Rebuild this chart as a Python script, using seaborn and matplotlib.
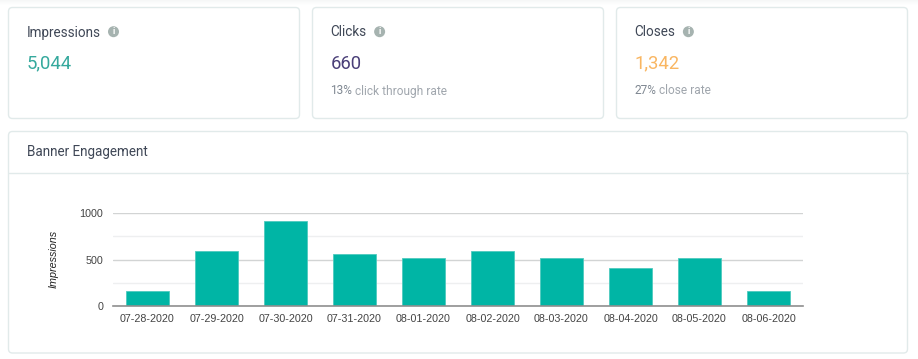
import matplotlib
matplotlib.use("Agg")
import matplotlib.pyplot as plt
from matplotlib.patches import FancyBboxPatch, Circle, Rectangle
import pandas as pd
import seaborn as sns

dates = ["07-28-2020", "07-29-2020", "07-30-2020", "07-31-2020", "08-01-2020",
         "08-02-2020", "08-03-2020", "08-04-2020", "08-05-2020", "08-06-2020"]
impressions = [165, 587, 915, 558, 515, 595, 515, 411, 515, 159]
y_ticks = [0, 500, 1000]
y_minor = [250, 750]

card_titles = ["Impressions", "Clicks", "Closes"]
card_values = ["5,044", "660", "1,342"]
card_colors = ["#35a99d", "#4a3f78", "#f9b662"]
card_bold = ["", "13%", "27%"]
card_rest = ["", " click through rate", " close rate"]
panel_title = "Banner Engagement"

W, H = 918, 359
sns.set_theme(style="white")
plt.rcParams["font.family"] = ["Roboto", "DejaVu Sans"]


def px(v):
    return v * 72 / 100


fig = plt.figure(figsize=(W / 100, H / 100), dpi=100, facecolor="white")

# page layer in pixel coordinates, y going down like the screenshot
bg = fig.add_axes([0, 0, 1, 1])
bg.set_xlim(0, W)
bg.set_ylim(H, 0)
bg.axis("off")

# faint shadow along the top of the page
for i, c in enumerate(["#f6f7f7", "#f8f9f9", "#fafbfb", "#fcfcfc", "#fdfefe"]):
    bg.add_patch(Rectangle((0, i), W, 1, fc=c, ec="none"))


def card(x0, y0, x1, y1):
    bg.add_patch(FancyBboxPatch((x0 + 4, y0 + 4), x1 - x0 - 8, y1 - y0 - 8,
                                boxstyle="round,pad=4,rounding_size=4",
                                fc="white", ec="#e1eaea", lw=1))


card_x = [(8.5, 299.5), (312.5, 603.5), (616.5, 907.5)]
for i in range(3):
    x0, x1 = card_x[i]
    card(x0, 7.5, x1, 118.5)
    t = bg.text(x0 + 18, 32.5, card_titles[i], fontsize=px(13.5), color="#3f4756", va="center")
    fig.canvas.draw()
    box = t.get_window_extent()
    bg.add_patch(Circle((box.x1 + 13, 31.7), 5.5, fc="#a6b3b0", ec="none"))
    bg.text(box.x1 + 13, 31.7, "i", fontsize=px(9), color="white", weight="bold", ha="center", va="center")
    bg.text(x0 + 18, 63.7, card_values[i], fontsize=px(18.5), color=card_colors[i], va="center")
    if card_bold[i]:
        s = bg.text(x0 + 18, 91, card_bold[i], fontsize=px(11.9), color="#7f8791", va="center")
        fig.canvas.draw()
        bg.text(s.get_window_extent().x1, 91, card_rest[i], fontsize=px(11.9), color="#a0a6ad", va="center")

card(8.5, 131.5, 907.5, 353)
bg.plot([8.5, 907.5], [172.5, 172.5], color="#e1eaea", lw=1)
bg.text(27, 152, panel_title, fontsize=px(13.5), color="#3f4756", va="center")

# chart area, x 113-803 and y 213-306 in the screenshot
ax = fig.add_axes([113 / W, 1 - 306 / H, 690 / W, 93 / H])
df = pd.DataFrame({"date": dates, "impressions": impressions})
sns.barplot(data=df, x="date", y="impressions", color="#00b5a5", saturation=1, width=0.61,
            edgecolor="#4fcabf", linewidth=0.6, ax=ax, zorder=3)
ax.set_xlim(-0.5, 9.5)
ax.set_ylim(0, 1000)
ax.patch.set_alpha(0)
ax.set_yticks(y_ticks)
ax.set_yticks(y_minor, minor=True)
ax.grid(axis="y", which="major", color="#d2d4d4", lw=1, zorder=0)
ax.grid(axis="y", which="minor", color="#eeeff0", lw=1, zorder=0)
ax.set_axisbelow(True)
sns.despine(ax=ax, left=True, right=True, top=True)
ax.spines["bottom"].set_color("#8f8f8f")
ax.spines["bottom"].set_linewidth(1.2)
ax.spines["bottom"].set_zorder(5)
ax.tick_params(axis="both", which="both", length=0)
ax.tick_params(axis="x", pad=6)
ax.tick_params(axis="y", pad=7)
for lab in ax.get_xticklabels() + ax.get_yticklabels():
    lab.set_fontfamily("Liberation Sans")
    lab.set_fontsize(px(10.7))
    lab.set_color("#444444")
ax.set_xlabel("")
ax.set_ylabel("")
bg.text(54, 258.5, "Impressions", rotation=90, fontsize=px(10.7), style="italic", color="#222222",
        family="Liberation Sans", ha="center", va="center")

fig.savefig("out.png", dpi=100)
